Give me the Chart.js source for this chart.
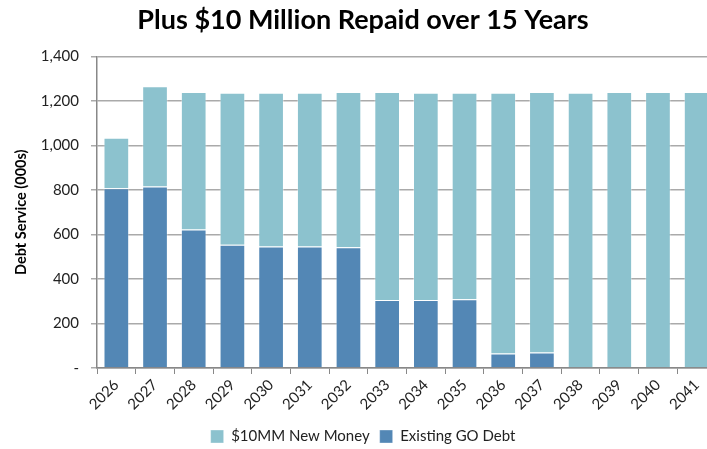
<!DOCTYPE html>
<html>
<head>
<meta charset="utf-8">
<script src="https://cdn.jsdelivr.net/npm/chart.js@4/dist/chart.umd.min.js"></script>
<style>
  html, body { margin: 0; padding: 0; background: #fff; overflow: hidden; }
  #wrap { width: 707px; height: 449px; overflow: hidden; }
</style>
</head>
<body>
<div id="wrap"><canvas id="debt-chart" width="726" height="454"></canvas></div>
<script>
const years = ['2026','2027','2028','2029','2030','2031','2032','2033','2034','2035','2036','2037','2038','2039','2040','2041'];
const existingDebt = [808, 816, 622, 554, 546, 546, 543, 306, 306, 309, 65, 70, 0, 0, 0, 0];
const newMoney = [226, 450, 618, 683, 691, 691, 697, 934, 931, 928, 1172, 1170, 1237, 1240, 1240, 1240];
const yTicks = [0, 200, 400, 600, 800, 1000, 1200, 1400];

Chart.defaults.font.family = 'Lato, "Open Sans", sans-serif';
Chart.defaults.color = '#222';

var ctx = document.getElementById('debt-chart').getContext('2d');
var chart = new Chart(ctx, {
    type: 'bar',
    data: {
        labels: years,
        datasets: [{
            label: 'Existing GO Debt',
            backgroundColor: '#5387b5',
            borderColor: 'rgba(255,255,255,0.35)',
            borderWidth: 1,
            data: existingDebt
        }, {
            label: '$10MM New Money',
            backgroundColor: '#8cc2ce',
            borderColor: 'rgba(255,255,255,0.35)',
            borderWidth: 1,
            data: newMoney
        }]
    },
    options: {
        responsive: false,
        animation: false,
        layout: { padding: { left: 10, right: 10, top: 0, bottom: 0 } },
        datasets: { bar: { barPercentage: 0.664, categoryPercentage: 1 } },
        plugins: {
            title: {
                display: true,
                text: 'Plus $10 Million Repaid over 15 Years',
                color: '#000',
                font: { size: 27, weight: 'bold' },
                padding: { top: 4, bottom: 20 }
            },
            legend: {
                position: 'bottom',
                reverse: true,
                labels: {
                    boxWidth: 13,
                    boxHeight: 13,
                    padding: 10,
                    font: { size: 15 },
                    color: '#222'
                }
            },
            tooltip: { enabled: false }
        },
        scales: {
            x: {
                stacked: true,
                offset: true,
                grid: { drawOnChartArea: false, tickLength: 6, color: '#888', offset: true },
                border: { color: '#888', width: 1.5 },
                ticks: { minRotation: 45, maxRotation: 45, font: { size: 15 }, padding: 2 },
                afterFit: function (scale) { scale.height = 51; }
            },
            y: {
                stacked: true,
                min: 0,
                max: 1400,
                afterBuildTicks: function (scale) { scale.ticks = yTicks.map(v => ({ value: v })); },
                grid: { color: '#aaa', lineWidth: 1.5, tickLength: 6 },
                border: { color: '#888', width: 1.5 },
                ticks: {
                    padding: 12,
                    font: { size: 15 },
                    callback: function (v) { return v === 0 ? '-' : v.toLocaleString('en-US'); }
                },
                title: {
                    display: true,
                    text: 'Debt Service (000s)',
                    color: '#000',
                    font: { size: 14.5, weight: 'bold' },
                    padding: { top: 3, bottom: 0 }
                },
                afterFit: function (scale) { scale.width = 87; }
            }
        }
    }
});
</script>
</body>
</html>
